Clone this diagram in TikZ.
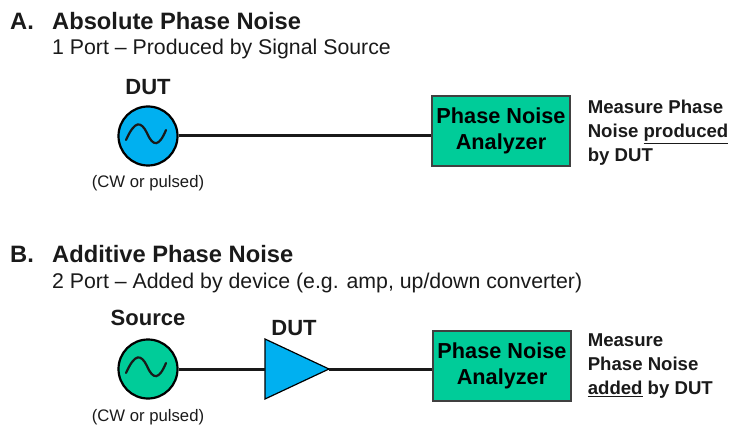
\documentclass[tikz,border=0pt]{standalone}
\usepackage{fontspec}
\setmainfont{Liberation Sans}
\usepackage{xcolor}
\usetikzlibrary{positioning,calc,shapes.geometric}
\definecolor{pnblue}{HTML}{00B0F0}
\definecolor{pngreen}{HTML}{00CC99}
\definecolor{pntext}{HTML}{1A1A1A}

\begin{document}
\begin{tikzpicture}[
  x=1pt, y=-1pt,
  text=pntext,
  head/.style={anchor=west, font=\fontsize{23.7}{28}\selectfont\bfseries, inner sep=0pt},
  sub/.style={anchor=west, font=\fontsize{21.3}{25}\selectfont, inner sep=0pt},
  tag/.style={font=\fontsize{22}{26}\selectfont\bfseries, inner sep=0pt},
  small/.style={font=\fontsize{16.7}{20}\selectfont, inner sep=0pt},
  osc/.style={circle, draw=black, line width=2.2pt, minimum size=59pt, inner sep=0pt},
  amp/.style={draw=black, line width=1.2pt, fill=pnblue},
  ana/.style={draw=black!75, line width=1.2pt, fill=pngreen, align=center, minimum width=138pt, minimum height=70pt, inner sep=0pt, text=black, font=\fontsize{21.7}{26.5}\selectfont\bfseries},
  note/.style={anchor=west, align=left, inner sep=0pt, font=\fontsize{18.6}{24}\selectfont\bfseries},
  wire/.style={line width=3pt, black!90},
  wave/.style={line width=2.2pt, black!90, line cap=round}
]
\useasboundingbox (0,0) rectangle (729,425);
% part A
\node[head] (la) at (10,21) {A.};
\node[head] (ta) at (52,21) {Absolute Phase Noise};
\node[sub] (sa) at (52,49) {1 Port -- Produced by Signal Source};
\node[osc, fill=pnblue] (dut1) at (148,136) {};
\node[tag, above=10pt of dut1] (dutlab1) {DUT};
\node[small, below=9pt of dut1] (cw1) {(CW or pulsed)};
\node[ana] (pna) at (501,131) {Phase Noise\\Analyzer};
\node[note, right=17pt of pna, yshift=-2pt] (ma) {Measure Phase\\Noise \underline{produced}\\by DUT};
\draw[wave, shift={(dut1.center)}] (-22,4) .. controls (-13,-16) and (-7,-15) .. (-1,-3) .. controls (5,11) and (11,11) .. (18,-6);
\draw[wire] (dut1) -- (dut1 -| pna.west);
% part B
\node[head] (lb) at (10,254) {B.};
\node[head] (tb) at (52,254) {Additive Phase Noise};
\node[sub] (sb) at (52,283) {2 Port -- Added by device (e.g. amp, up/down converter)};
\node[osc, fill=pngreen] (src) at (148,369) {};
\node[tag, above=12pt of src] (srclab) {Source};
\node[small, below=10pt of src] (cw2) {(CW or pulsed)};
\node[ana] (pnb) at (502,366) {Phase Noise\\Analyzer};
\node[note, right=16pt of pnb] (mb) {Measure\\Phase Noise\\\underline{added} by DUT};
\coordinate (amptop) at (265,339);
\coordinate (ampbot) at (265,399);
\coordinate (amptip) at (329,369);
\coordinate (ampin) at (265,369);
\draw[amp] (amptop) -- (amptip) -- (ampbot) -- cycle;
\node[tag, above=3pt of amptop, xshift=29pt] (dutlab2) {DUT};
\draw[wave, shift={(src.center)}] (-22,4) .. controls (-13,-16) and (-7,-15) .. (-1,-3) .. controls (5,11) and (11,11) .. (18,-6);
\draw[wire] (src) -- (ampin);
\draw[wire] (amptip) -- (amptip -| pnb.west);
\end{tikzpicture}
\end{document}
